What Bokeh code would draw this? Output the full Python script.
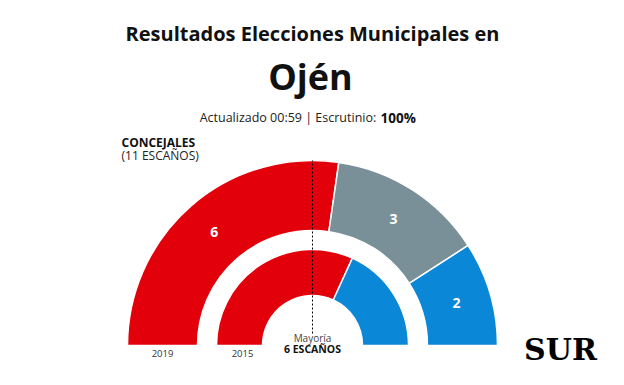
import math
from bokeh.plotting import figure
from bokeh.models import Range1d
from bokeh.core.properties import value
from bokeh.embed import file_html
from bokeh.resources import INLINE

# ---- data ----
parties = ["PSOE", "Otros", "PP"]
colors = ["#e2000b", "#7a9099", "#0a87d6"]
seats_2019 = [6, 3, 2]
parties_2015 = ["PSOE", "PP"]
colors_2015 = ["#e2000b", "#0a87d6"]
seats_2015 = [7, 4]
total_seats = 11
majority = 6
ring_labels = ["2019", "2015"]

title = "Resultados Elecciones Municipales en"
town = "Ojén"
updated = "Actualizado 00:59 | Escrutinio: "
scrutiny = "100%"

W, H = 608, 369
FONT = "Open Sans"


def X(px):
    return px


def Y(py):
    return H - py


p = figure(width=W, height=H, output_backend="svg", toolbar_location=None,
           x_range=Range1d(0, W), y_range=Range1d(0, H), min_border=0)
p.axis.visible = False
p.grid.visible = False
p.outline_line_color = None
p.background_fill_color = "white"
p.border_fill_color = "white"

cx, cy = X(312), Y(345)
rings = [(115, 185, seats_2019, colors), (50, 96, seats_2015, colors_2015)]
for (ri, ro, seats, cols) in rings:
    start = math.pi
    for s, c in zip(seats, cols):
        end = start - s / total_seats * math.pi
        p.annular_wedge(x=cx, y=cy, inner_radius=ri, outer_radius=ro,
                        start_angle=end, end_angle=start, direction="anticlock",
                        fill_color=c, line_color="white", line_width=1.5)
        if ro == 185:
            mid = (start + end) / 2
            rm = (ri + ro) / 2
            p.text(x=[cx + rm * math.cos(mid)], y=[cy + rm * math.sin(mid)],
                   text=[str(s)], text_color="white", text_font=value(FONT),
                   text_font_size="14px", text_font_style="bold",
                   text_align="center", text_baseline="middle")
        start = end

# majority line
p.segment(x0=[cx], y0=[cy + 12], x1=[cx], y1=[cy + 185],
          line_color="black", line_width=1, line_dash="2 2")

# ring year labels
for lab, r in zip(ring_labels, [150, 70]):
    p.text(x=[cx - r], y=[Y(353)], text=[lab], text_color="#333333",
           text_font=value(FONT), text_font_size="9.5px",
           text_align="center", text_baseline="middle")

p.text(x=[cx], y=[Y(337)], text=["Mayoría"], text_color="#444444",
       text_font=value(FONT), text_font_size="10px",
       text_align="center", text_baseline="middle")
p.text(x=[cx], y=[Y(348)], text=[f"{majority} ESCAÑOS"], text_color="#111111",
       text_font=value(FONT), text_font_size="10.5px", text_font_style="bold",
       text_align="center", text_baseline="middle")

# titles
p.text(x=[X(312)], y=[Y(33)], text=[title], text_color="#111111",
       text_font=value(FONT), text_font_size="20px", text_font_style="bold",
       text_align="center", text_baseline="middle")
p.text(x=[X(310)], y=[Y(76)], text=[town], text_color="#111111",
       text_font=value(FONT), text_font_size="36px", text_font_style="bold",
       text_align="center", text_baseline="middle")
p.text(x=[X(379)], y=[Y(117)], text=[updated], text_color="#222222",
       text_font=value(FONT), text_font_size="12.5px",
       text_align="right", text_baseline="middle")
p.text(x=[X(380)], y=[Y(117)], text=[scrutiny], text_color="#111111",
       text_font=value(FONT), text_font_size="13.5px", text_font_style="bold",
       text_align="left", text_baseline="middle")

p.text(x=[X(121)], y=[Y(142)], text=["CONCEJALES"], text_color="#111111",
       text_font=value(FONT), text_font_size="12px", text_font_style="bold",
       text_align="left", text_baseline="middle")
p.text(x=[X(121)], y=[Y(155)], text=[f"({total_seats} ESCAÑOS)"], text_color="#222222",
       text_font=value(FONT), text_font_size="12px",
       text_align="left", text_baseline="middle")

# logo
p.text(x=[X(560)], y=[Y(349)], text=["SUR"], text_color="black",
       text_font=value("DejaVu Serif"), text_font_size="30px", text_font_style="bold",
       text_align="center", text_baseline="middle")

open("out.html", "w").write(file_html(p, INLINE))
